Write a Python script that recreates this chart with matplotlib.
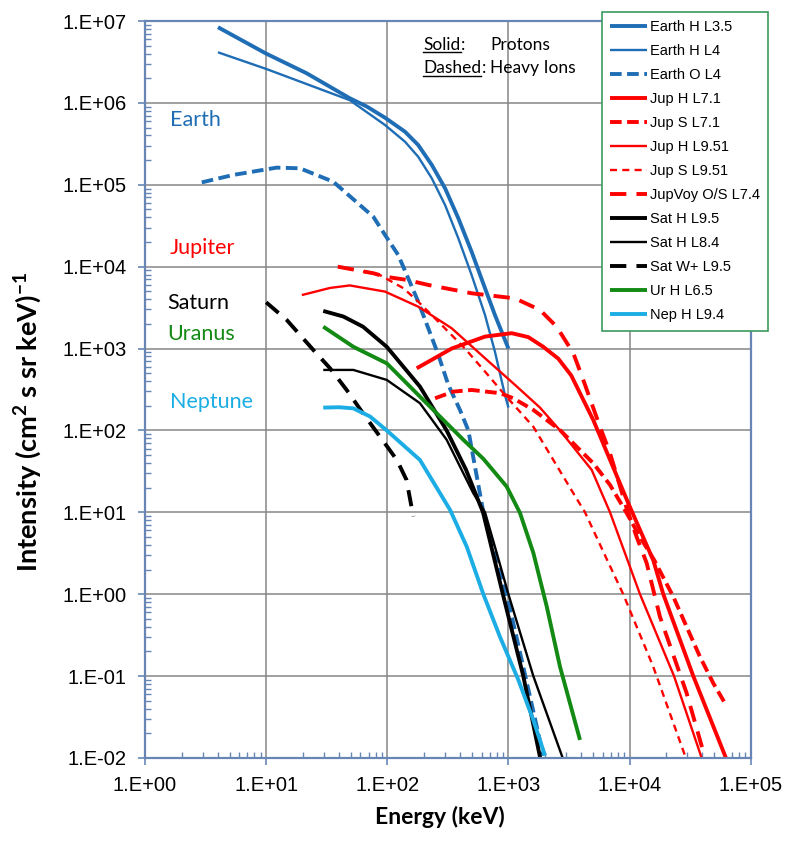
import matplotlib
matplotlib.use("Agg")
import matplotlib.pyplot as plt
from matplotlib.lines import Line2D
from matplotlib.ticker import LogLocator, NullFormatter

# Energy (keV) / intensity values
earth_h35_e = [4, 10, 21.6, 49, 68, 95.8, 140, 180, 233, 300, 386, 497, 641, 774, 1000]
earth_h35_i = [8.4e6, 4.0e6, 2.3e6, 1.14e6, 9.0e5, 6.59e5, 4.45e5, 3.06e5, 1.75e5, 9.06e4, 3.9e4, 1.52e4, 5.45e3, 2.57e3, 1.0e3]

earth_h4_e = [4, 10, 49, 95.8, 140, 180, 233, 300, 386, 497, 641, 774, 936, 1000]
earth_h4_i = [4.15e6, 2.6e6, 1.08e6, 5.37e5, 3.36e5, 2.2e5, 1.2e5, 5.66e4, 2.22e4, 7.9e3, 2.57e3, 916, 271, 190]

earth_o4_e = [2.94, 5.36, 12.2, 19, 35.8, 76.7, 95.8, 123, 149, 180, 218, 264, 319, 398, 467, 621, 968, 1380, 1941]
earth_o4_i = [1.07e5, 1.32e5, 1.62e5, 1.59e5, 1.09e5, 4.07e4, 2.44e4, 1.39e4, 7.2e3, 3.74e3, 1.77e3, 836, 360, 178, 100, 10, 1.0, 0.1, 0.0107]

jup_h71_e = [175, 340, 641, 1064, 1459, 1941, 2580, 3300, 5020, 9770, 15700, 19000, 33600, 62500]
jup_h71_i = [574, 1000, 1400, 1540, 1380, 1050, 753, 470, 134, 12.9, 2.6, 1.0, 0.1, 0.01]

jup_s71_e = [248, 351, 497, 853, 1097, 1606, 2667, 5020, 6900, 9470, 12200, 16000, 22960, 29600, 38100, 49100, 60200]
jup_s71_i = [247, 298, 312, 285, 247, 178, 101, 39.7, 21.6, 9.8, 5.0, 2.6, 0.935, 0.40, 0.173, 0.082, 0.049]

jup_h951_e = [19.7, 33.7, 49, 95.8, 180, 340, 641, 1133, 1823, 2667, 4870, 6900, 12200, 23300, 39400]
jup_h951_i = [4.5e3, 5.5e3, 5.9e3, 4.96e3, 3.25e3, 1.77e3, 762, 360, 190, 100, 33, 10, 1.0, 0.1, 0.01]

jup_s951_e = [63, 87, 136, 180, 281, 438, 641, 936, 1606, 3436, 4290, 6470, 8870, 15700, 28700]
jup_s951_i = [8.7e3, 7.9e3, 5.45e3, 3.74e3, 1.94e3, 1.0e3, 523, 271, 111, 17.1, 10, 2.7, 1.0, 0.13, 0.0107]

jupvoy_e = [39, 77, 95.8, 144, 218, 497, 1133, 1823, 2502, 3436, 4150, 5700, 6900, 9470, 11450, 13850, 15700, 17830, 29600, 40600]
jupvoy_i = [1.0e4, 8.3e3, 7.55e3, 6.9e3, 5.98e3, 4.73e3, 4.1e3, 2.96e3, 1.85e3, 877, 414, 111, 52.7, 11.2, 5.0, 2.4, 1.13, 0.53, 0.062, 0.012]

sat_h95_e = [29.6, 43.4, 63, 99, 186, 309, 447, 617, 900, 1327, 1830]
sat_h95_i = [2.88e3, 2.46e3, 1.85e3, 1.05e3, 343, 100, 33, 10, 1.0, 0.1, 0.01]

sat_h84_e = [29.6, 52.5, 99, 186, 309, 513, 641, 800, 1000, 1606, 2806]
sat_h84_i = [548, 548, 414, 215, 77, 17.1, 10, 3.2, 1.0, 0.1, 0.01]

sat_w95_e = [10, 14.8, 24.5, 33.7, 46.2, 63, 87, 120, 144, 164]
sat_w95_i = [3.67e3, 2.23e3, 962, 574, 312, 162, 84, 43.6, 24.9, 8.9]

ur_h65_e = [29.6, 52.5, 99, 198, 424, 621, 968, 1247, 1606, 2071, 2667, 3900]
ur_h65_i = [1850, 1050, 660, 236, 77, 45, 20.6, 9.8, 3.2, 0.71, 0.13, 0.0166]

nep_h94_e = [29.6, 40, 52.5, 72, 99, 186, 330, 453, 621, 853, 1207, 1606, 2004]
nep_h94_i = [190, 192, 186, 148, 100, 43.6, 10.7, 3.8, 1.0, 0.30, 0.09, 0.029, 0.0107]

tick_labels_x = ["1.E+00", "1.E+01", "1.E+02", "1.E+03", "1.E+04", "1.E+05"]
tick_labels_y = ["1.E-02", "1.E-01", "1.E+00", "1.E+01", "1.E+02", "1.E+03",
                 "1.E+04", "1.E+05", "1.E+06", "1.E+07"]

BLUE = "#1F6EB5"
RED = "#FF0000"
BLACK = "#000000"
GREEN = "#138A13"
CYAN = "#1CADE4"
THICK = 2.8
THIN = 1.7

# label, energies, intensities, colour, width, dash pattern
series = [
    ("Earth H L3.5", earth_h35_e, earth_h35_i, BLUE, THICK, None),
    ("Earth H L4", earth_h4_e, earth_h4_i, BLUE, THIN, None),
    ("Earth O L4", earth_o4_e, earth_o4_i, BLUE, THICK, (3.0, 1.4)),
    ("Jup H L7.1", jup_h71_e, jup_h71_i, RED, THICK, None),
    ("Jup S L7.1", jup_s71_e, jup_s71_i, RED, THICK, (3.0, 1.4)),
    ("Jup H L9.51", jup_h951_e, jup_h951_i, RED, THIN, None),
    ("Jup S L9.51", jup_s951_e, jup_s951_i, RED, THIN, (3.0, 2.2)),
    ("JupVoy O/S L7.4", jupvoy_e, jupvoy_i, RED, THICK, (4.2, 2.6)),
    ("Sat H L9.5", sat_h95_e, sat_h95_i, BLACK, THICK, None),
    ("Sat H L8.4", sat_h84_e, sat_h84_i, BLACK, THIN, None),
    ("Sat W+ L9.5", sat_w95_e, sat_w95_i, BLACK, THICK, (4.2, 2.6)),
    ("Ur H L6.5", ur_h65_e, ur_h65_i, GREEN, THICK, None),
    ("Nep H L9.4", nep_h94_e, nep_h94_i, CYAN, THICK, None),
]

plt.rcParams["mathtext.default"] = "regular"

fig = plt.figure(figsize=(7.93, 8.58), dpi=100)
ax = fig.add_axes([0.1829, 0.1166, 0.7637, 0.8589])

for label, e, i, color, lw, dashes in series:
    line, = ax.plot(e, i, color=color, lw=lw, label=label, solid_capstyle="butt",
                    solid_joinstyle="round")
    if dashes is not None:
        line.set_dashes(dashes)

ax.set_xscale("log")
ax.set_yscale("log")
ax.set_xlim(1, 1e5)
ax.set_ylim(1e-2, 1e7)

ax.set_xticks([10.0 ** k for k in range(0, 6)])
ax.set_xticklabels(tick_labels_x)
ax.set_yticks([10.0 ** k for k in range(-2, 8)])
ax.set_yticklabels(tick_labels_y)
ax.xaxis.set_minor_locator(LogLocator(base=10, subs=range(2, 10), numticks=20))
ax.yaxis.set_minor_locator(LogLocator(base=10, subs=range(2, 10), numticks=20))
ax.xaxis.set_minor_formatter(NullFormatter())
ax.yaxis.set_minor_formatter(NullFormatter())

axis_col = "#6786B5"
for side in ["left", "bottom", "top", "right"]:
    ax.spines[side].set_color(axis_col)
    ax.spines[side].set_linewidth(1.6)
ax.tick_params(which="major", direction="out", length=5, width=1.2, color=axis_col,
               labelsize=14.5, pad=8)
ax.tick_params(which="minor", direction="in", length=4, width=1.0, color=axis_col)
for lab in ax.get_xticklabels() + ax.get_yticklabels():
    lab.set_family("Liberation Sans")

ax.grid(True, which="major", color="#868686", lw=1.1)
ax.set_axisbelow(True)

ax.set_xlabel("Energy (keV)", family="Lato", weight="bold", fontsize=16.5, va="center")
ax.xaxis.set_label_coords(0.487, -0.080)
ax.set_ylabel("Intensity (cm$^{2}$ s sr keV)$^{-1}$", family="Lato", weight="bold",
              fontsize=19.5, va="center")
ax.yaxis.set_label_coords(-0.193, 0.456)

# planet names
planets = [("Earth", 0.041, 0.866, BLUE), ("Jupiter", 0.041, 0.692, RED),
           ("Saturn", 0.036, 0.617, BLACK), ("Uranus", 0.036, 0.575, GREEN),
           ("Neptune", 0.041, 0.483, CYAN)]
for name, px, py, col in planets:
    ax.text(px, py, name, transform=ax.transAxes, color=col, family="Lato",
            fontsize=15.5, va="center", ha="left")

# line style key, with underlined words
key_rows = [("Solid", "Protons", 0.9607, 0.5707), ("Dashed", "Heavy Ions", 0.9294, 0.5696)]
fig.canvas.draw()
renderer = fig.canvas.get_renderer()
for word, desc, ky, dx in key_rows:
    t = ax.text(0.4595, ky, word, transform=ax.transAxes, family="Lato",
                fontsize=12.5, va="baseline")
    bb = t.get_window_extent(renderer)
    ax.text(bb.x1, bb.y0, ":", transform=None, family="Lato", fontsize=12.5,
            va="bottom")
    base_y = ax.transAxes.transform((0, ky))[1]
    fig.lines.append(Line2D([bb.x0, bb.x1], [base_y - 2.5, base_y - 2.5], lw=1.0,
                            color="black", transform=None))
    ax.text(dx, ky, desc, transform=ax.transAxes, family="Lato", fontsize=12.5,
            va="baseline")

leg = ax.legend(loc="upper left", bbox_to_anchor=(0.7588, 0.9864),
                bbox_transform=fig.transFigure, borderaxespad=0,
                prop={"family": "Liberation Sans", "size": 10.5},
                handlelength=2.5, handletextpad=0.18, labelspacing=0.685,
                borderpad=0.6, fancybox=False, framealpha=1, edgecolor="#3C9A5C")
leg.get_frame().set_linewidth(1.2)
leg.set_zorder(10)

fig.savefig("out.png", dpi=100)
